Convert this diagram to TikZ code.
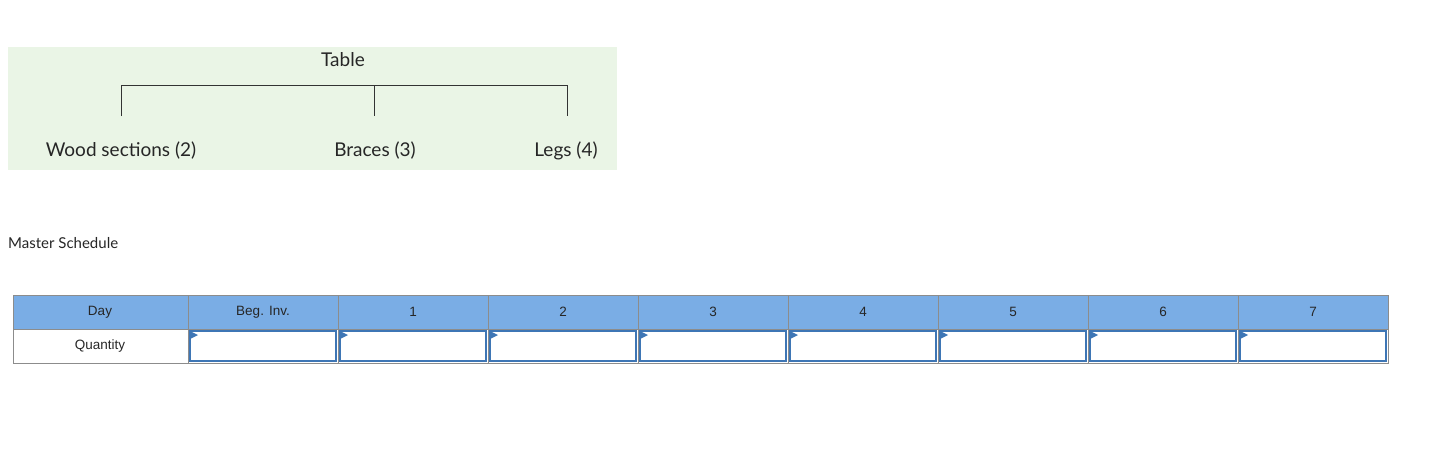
\documentclass[tikz,border=0pt]{standalone}
\usepackage{fontspec}
\setmainfont{Liberation Sans}
\newfontfamily\lato{Lato}
\definecolor{treebg}{RGB}{234,245,230}
\definecolor{hdrfill}{RGB}{122,173,229}
\definecolor{inblue}{RGB}{62,118,181}
\begin{document}
\begin{tikzpicture}[x=1pt,y=-1pt,
  lbl/.style={font=\lato\fontsize{19}{22}\selectfont,text=black!85,inner sep=0},
  hdr/.style={font=\fontsize{13.5}{16}\selectfont,text=black!85}]
\useasboundingbox (0,0) rectangle (1432,450);
\fill[treebg] (8,47) rectangle (617,170);
\node[lbl] (top) at (343,60) {Table};
\node[lbl] (w) at (121,151) {Wood sections (2)};
\node[lbl] (b) at (375,151) {Braces (3)};
\node[lbl] (l) at (566,151) {Legs (4)};
\coordinate (hl) at (121,85); \coordinate (hr) at (567,85); \coordinate (hm) at (374,85);
\draw[black!80,line width=0.8pt] (121,116) -- (hl) -- (hr) -- (567,116);
\draw[black!80,line width=0.8pt] (hm) -- (374,116);
\node[anchor=west,inner sep=0,font=\lato\fontsize{15}{18}\selectfont,text=black!85] (ms) at (8,243) {Master Schedule};
\fill[hdrfill] (13,295) rectangle (1388,329);
\draw[black!45,line width=0.8pt] (13,295) rectangle (1388,363);
\draw[black!45,line width=0.8pt] (13,329) -- (1388,329);
\draw[black!45,line width=0.8pt] (188,295) -- (188,363);
\foreach \i in {1,...,8} \draw[black!45,line width=0.8pt] ({188+150*\i},295) -- ({188+150*\i},363);
\node[hdr] (d) at (100,312) {Day};
\node[hdr] (q) at (100,346) {Quantity};
\foreach \t [count=\i from 0] in {Beg. Inv.,1,2,3,4,5,6,7}{
  \node[hdr] (h\i) at ({263+150*\i},312) {\t};
  \draw[inblue,line width=1.3pt] ({190+150*\i},331) rectangle ({336+150*\i},361);
  \fill[inblue] ({190+150*\i},331) -- ({198+150*\i},335) -- ({190+150*\i},339) -- cycle;
}
\end{tikzpicture}
\end{document}
